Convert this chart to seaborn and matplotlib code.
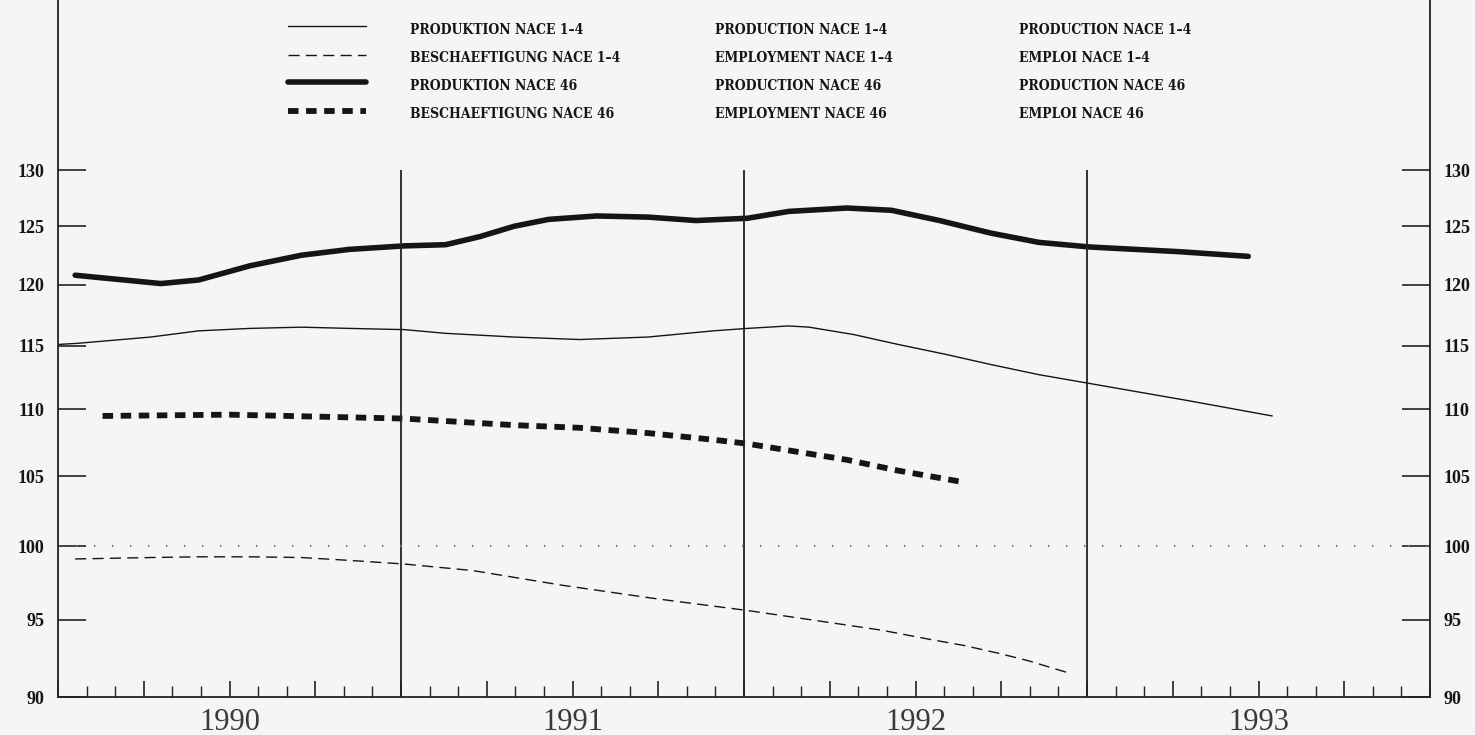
import numpy as np
import pandas as pd
import seaborn as sns
import matplotlib
matplotlib.use("Agg")
import matplotlib.pyplot as plt
from matplotlib.ticker import FixedLocator, FuncFormatter, NullLocator
from matplotlib.lines import Line2D
from matplotlib import font_manager as fm

# ---------------- data ----------------
years = [1990, 1991, 1992, 1993]
yticks = [90, 95, 100, 105, 110, 115, 120, 125, 130]

t_prod14 = [1990.00, 1990.06, 1990.27, 1990.41, 1990.56, 1990.71, 1990.85, 1991.01,
            1991.13, 1991.33, 1991.52, 1991.72, 1991.91, 1992.01, 1992.13, 1992.19,
            1992.32, 1992.45, 1992.59, 1992.72, 1992.86, 1993.01, 1993.29, 1993.54]
prod14 = [115.1, 115.2, 115.7, 116.2, 116.4, 116.5, 116.4, 116.3,
          116.0, 115.7, 115.5, 115.7, 116.2, 116.4, 116.6, 116.5,
          115.9, 115.1, 114.3, 113.5, 112.7, 112.0, 110.7, 109.5]

t_emp14 = [1990.05, 1990.27, 1990.41, 1990.56, 1990.71, 1990.85, 1991.01, 1991.21,
           1991.47, 1991.74, 1992.01, 1992.28, 1992.40, 1992.54, 1992.64, 1992.74,
           1992.83, 1992.95]
emp14 = [99.1, 99.2, 99.25, 99.25, 99.2, 99.0, 98.75, 98.3,
         97.3, 96.4, 95.6, 94.7, 94.3, 93.7, 93.3, 92.8,
         92.3, 91.5]

t_prod46 = [1990.05, 1990.30, 1990.41, 1990.56, 1990.71, 1990.85, 1991.01, 1991.13,
            1991.23, 1991.33, 1991.43, 1991.57, 1991.72, 1991.86, 1992.01, 1992.13,
            1992.30, 1992.43, 1992.57, 1992.72, 1992.86, 1993.01, 1993.27, 1993.47]
prod46 = [120.8, 120.1, 120.4, 121.6, 122.5, 123.0, 123.3, 123.4,
          124.1, 125.0, 125.6, 125.9, 125.8, 125.5, 125.7, 126.3,
          126.6, 126.4, 125.5, 124.4, 123.6, 123.2, 122.8, 122.4]

t_emp46 = [1990.13, 1990.50, 1991.01, 1991.33, 1991.52, 1991.72, 1991.91, 1992.01,
           1992.13, 1992.30, 1992.45, 1992.63]
emp46 = [109.5, 109.6, 109.3, 108.8, 108.6, 108.2, 107.7, 107.4,
         106.9, 106.2, 105.4, 104.6]

labels_de = ["PRODUKTION NACE 1\u20134", "BESCHAEFTIGUNG NACE 1\u20134",
             "PRODUKTION NACE 46", "BESCHAEFTIGUNG NACE 46"]
labels_en = ["PRODUCTION NACE 1\u20134", "EMPLOYMENT NACE 1\u20134",
             "PRODUCTION NACE 46", "EMPLOYMENT NACE 46"]
labels_fr = ["PRODUCTION NACE 1\u20134", "EMPLOI NACE 1\u20134",
             "PRODUCTION NACE 46", "EMPLOI NACE 46"]

# ---------------- style ----------------
sns.set_theme(style="white")
plt.rcParams["font.family"] = ["Liberation Serif", "DejaVu Serif"]

W, H = 1475, 735
BG = "#f5f5f5"
INK = "#151515"

fig = plt.figure(figsize=(W / 100, H / 100), dpi=100, facecolor=BG)
ax = fig.add_axes([58 / W, 1 - 697 / H, (1430 - 58) / W, 697 / H])
ax.set_facecolor(BG)

styles = [
    dict(linewidth=1.0, linestyle="-"),
    dict(linewidth=1.0, linestyle=(0, (8, 4.5))),
    dict(linewidth=4.0, linestyle="-"),
    dict(linewidth=4.2, linestyle=(0, (1.8, 1.3))),
]
series = [(t_prod14, prod14), (t_emp14, emp14), (t_prod46, prod46), (t_emp46, emp46)]

for (t, v), st in zip(series, styles):
    df = pd.DataFrame({"t": t, "v": v})
    sns.lineplot(data=df, x="t", y="v", ax=ax, color=INK, estimator=None,
                 sort=False, legend=False, solid_joinstyle="round", **st)

# year boundary lines and 100 reference
ax.vlines(years[1:], yticks[0], yticks[-1], color="#222222", linewidth=1.3)
ax.axhline(100, color="#777777", linewidth=1.6, linestyle=(0, (0.6, 7.5)))

# y axis (log scale)
ax.set_yscale("log")
ax.set_ylim(yticks[0], yticks[0] * np.exp(697 / 1433))
ax.yaxis.set_major_locator(FixedLocator(yticks))
ax.yaxis.set_major_formatter(FuncFormatter(lambda v, p: f"{v:.0f}"))
ax.yaxis.set_minor_locator(NullLocator())
ax.tick_params(axis="y", which="major", direction="in", length=20, width=1.2,
               color="#222222", left=True, right=True, labelleft=True,
               labelright=True, labelsize=13, pad=10, labelcolor=INK)
for lab in ax.get_yticklabels(which="both") + ax.yaxis.get_ticklabels():
    lab.set_fontweight("bold")
for tk in ax.yaxis.get_major_ticks():
    tk.label1.set_fontweight("bold")
    tk.label2.set_fontweight("bold")

# x axis
ax.set_xlim(years[0], years[-1] + 1)
quarters = np.arange(years[0], years[-1] + 1.001, 0.25)
months = np.arange(years[0], years[-1] + 1.001, 1 / 12)
ax.xaxis.set_major_locator(FixedLocator(quarters))
ax.xaxis.set_minor_locator(FixedLocator(months))


def year_fmt(v, p):
    for y in years:
        if abs(v - (y + 0.5)) < 1e-6:
            return str(y)
    return ""


ax.xaxis.set_major_formatter(FuncFormatter(year_fmt))
ax.tick_params(axis="x", which="major", direction="in", length=11.5, width=1.2,
               color="#222222", bottom=True, top=False, labelsize=22, pad=8,
               labelcolor="#3a3a3a")
ax.tick_params(axis="x", which="minor", direction="in", length=8, width=1.0,
               color="#222222", bottom=True, top=False)
ax.set_xlabel("")
ax.set_ylabel("")

for side in ["left", "right", "bottom"]:
    ax.spines[side].set_visible(True)
    ax.spines[side].set_color("#222222")
    ax.spines[side].set_linewidth(1.3)
ax.spines["top"].set_visible(False)

# ---------------- legend (drawn by hand, three languages) ----------------
ttf = fm.fontManager.ttflist
names = {f.name for f in ttf}
leg_family = "Liberation Serif"
leg_stretch = "normal"
if any(f.name == "DejaVu Serif" and f.stretch in ("condensed", 75) for f in ttf):
    leg_family, leg_stretch = "DejaVu Serif", "condensed"
elif "DejaVu Serif Condensed" in names:
    leg_family = "DejaVu Serif Condensed"
elif "Liberation Sans Narrow" in names:
    leg_family = "Liberation Sans Narrow"


def fx(px):
    return px / W


def fy(py):
    return 1 - py / H


sample_y = [26, 55, 82, 111]
text_y = [30, 58, 86, 114]
col_x = [410, 715, 1019]

for yy, st in zip(sample_y, styles):
    fig.add_artist(Line2D([fx(288), fx(366)], [fy(yy), fy(yy)], transform=fig.transFigure,
                          color=INK, **st))

# fit the font size so a reference label has the measured width
probe = fig.text(0, 0, labels_en[0], fontsize=10, fontweight="bold",
                 family=leg_family, stretch=leg_stretch)
fig.canvas.draw()
wpx = probe.get_window_extent(renderer=fig.canvas.get_renderer()).width
leg_size = 10 * 172 / wpx
probe.remove()

for cx, labs in zip(col_x, [labels_de, labels_en, labels_fr]):
    for yy, lab in zip(text_y, labs):
        fig.text(fx(cx), fy(yy), lab, fontsize=leg_size, fontweight="bold",
                 family=leg_family, stretch=leg_stretch, color=INK,
                 ha="left", va="center")

fig.savefig("out.png", dpi=100, facecolor=BG)
